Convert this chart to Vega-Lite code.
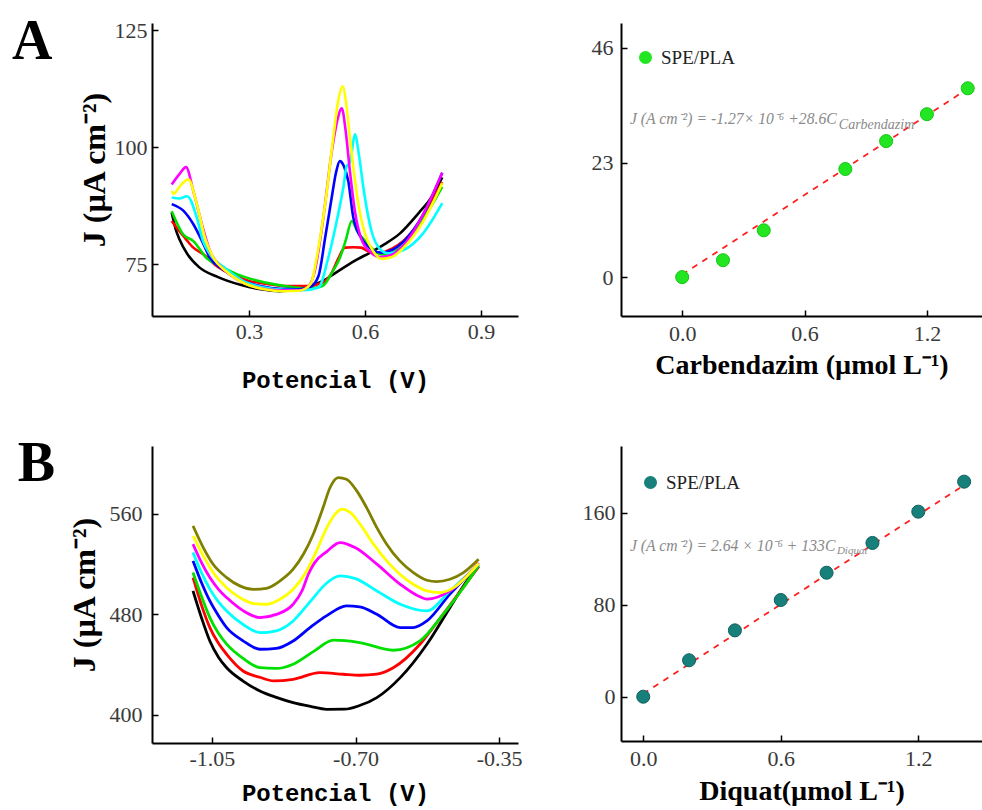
{
"$schema": "https://vega.github.io/schema/vega-lite/v6.json",
"background": "white",
"padding": {"left": 12, "top": 14, "right": 0, "bottom": 4},
"config": {
  "view": {"stroke": null},
  "axis": {"domainColor": "#000", "domainWidth": 2, "tickColor": "#000", "tickWidth": 1.5, "tickSize": -6, "grid": false, "labelFont": "Liberation Serif", "labelFontSize": 22, "labelColor": "#3a3a3a", "labelPadding": 6, "titleColor": "#000", "titleFont": "Liberation Serif", "titleFontWeight": "bold"},
  "legend": {"orient": "top-left", "padding": 0, "labelFont": "Liberation Serif", "labelFontSize": 19, "labelColor": "#222", "labelOffset": 6, "symbolType": "circle", "symbolSize": 170, "symbolStrokeWidth": 0, "titlePadding": 0}
},
"datasets": {
  "cvA": [
    {"c":"c0","E":0.10,"J":86.0},{"c":"c0","E":0.11,"J":82.5},{"c":"c0","E":0.12,"J":80.3},{"c":"c0","E":0.14,"J":77.2},{"c":"c0","E":0.17,"J":74.4},{"c":"c0","E":0.22,"J":72.2},{"c":"c0","E":0.28,"J":70.5},{"c":"c0","E":0.33,"J":69.6},{"c":"c0","E":0.38,"J":69.2},{"c":"c0","E":0.42,"J":69.6},{"c":"c0","E":0.46,"J":70.4},{"c":"c0","E":0.50,"J":71.8},{"c":"c0","E":0.52,"J":72.9},{"c":"c0","E":0.55,"J":74.5},{"c":"c0","E":0.58,"J":76.0},{"c":"c0","E":0.61,"J":77.3},{"c":"c0","E":0.65,"J":79.2},{"c":"c0","E":0.69,"J":81.5},{"c":"c0","E":0.74,"J":86.0},{"c":"c0","E":0.77,"J":89.0},{"c":"c0","E":0.80,"J":93.5},
    {"c":"c1","E":0.10,"J":84.2},{"c":"c1","E":0.12,"J":82.0},{"c":"c1","E":0.134,"J":80.6},{"c":"c1","E":0.156,"J":78.5},{"c":"c1","E":0.182,"J":77.1},{"c":"c1","E":0.216,"J":74.6},{"c":"c1","E":0.26,"J":72.6},{"c":"c1","E":0.30,"J":71.4},{"c":"c1","E":0.35,"J":70.7},{"c":"c1","E":0.40,"J":70.3},{"c":"c1","E":0.45,"J":70.3},{"c":"c1","E":0.49,"J":71.0},{"c":"c1","E":0.514,"J":73.1},{"c":"c1","E":0.53,"J":76.0},{"c":"c1","E":0.548,"J":78.5},{"c":"c1","E":0.57,"J":78.6},{"c":"c1","E":0.59,"J":78.5},{"c":"c1","E":0.617,"J":77.4},{"c":"c1","E":0.64,"J":77.4},{"c":"c1","E":0.67,"J":78.3},{"c":"c1","E":0.70,"J":80.0},{"c":"c1","E":0.75,"J":85.0},{"c":"c1","E":0.80,"J":92.5},
    {"c":"c2","E":0.10,"J":86.3},{"c":"c2","E":0.13,"J":81.3},{"c":"c2","E":0.156,"J":79.9},{"c":"c2","E":0.19,"J":76.3},{"c":"c2","E":0.225,"J":74.6},{"c":"c2","E":0.27,"J":72.8},{"c":"c2","E":0.32,"J":71.5},{"c":"c2","E":0.37,"J":70.6},{"c":"c2","E":0.42,"J":70.0},{"c":"c2","E":0.46,"J":69.8},{"c":"c2","E":0.49,"J":70.3},{"c":"c2","E":0.517,"J":73.5},{"c":"c2","E":0.535,"J":76.3},{"c":"c2","E":0.55,"J":80.0},{"c":"c2","E":0.566,"J":84.2},{"c":"c2","E":0.58,"J":82.0},{"c":"c2","E":0.608,"J":79.3},{"c":"c2","E":0.63,"J":77.5},{"c":"c2","E":0.65,"J":77.0},{"c":"c2","E":0.70,"J":79.0},{"c":"c2","E":0.75,"J":84.5},{"c":"c2","E":0.80,"J":91.5},
    {"c":"c3","E":0.10,"J":87.8},{"c":"c3","E":0.13,"J":86.4},{"c":"c3","E":0.156,"J":83.5},{"c":"c3","E":0.182,"J":79.3},{"c":"c3","E":0.199,"J":76.3},{"c":"c3","E":0.23,"J":74.0},{"c":"c3","E":0.28,"J":71.5},{"c":"c3","E":0.33,"J":70.3},{"c":"c3","E":0.38,"J":69.7},{"c":"c3","E":0.43,"J":69.6},{"c":"c3","E":0.46,"J":70.2},{"c":"c3","E":0.48,"J":72.5},{"c":"c3","E":0.497,"J":80.6},{"c":"c3","E":0.514,"J":89.2},{"c":"c3","E":0.525,"J":94.5},{"c":"c3","E":0.535,"J":97.0},{"c":"c3","E":0.545,"J":96.0},{"c":"c3","E":0.557,"J":92.7},{"c":"c3","E":0.57,"J":84.9},{"c":"c3","E":0.596,"J":79.9},{"c":"c3","E":0.62,"J":78.0},{"c":"c3","E":0.643,"J":77.4},{"c":"c3","E":0.67,"J":78.0},{"c":"c3","E":0.70,"J":79.8},{"c":"c3","E":0.75,"J":85.5},{"c":"c3","E":0.80,"J":94.5},
    {"c":"c4","E":0.10,"J":89.2},{"c":"c4","E":0.12,"J":89.0},{"c":"c4","E":0.14,"J":89.5},{"c":"c4","E":0.165,"J":84.9},{"c":"c4","E":0.181,"J":79.9},{"c":"c4","E":0.20,"J":77.0},{"c":"c4","E":0.24,"J":74.0},{"c":"c4","E":0.29,"J":71.2},{"c":"c4","E":0.34,"J":70.0},{"c":"c4","E":0.39,"J":69.5},{"c":"c4","E":0.44,"J":69.4},{"c":"c4","E":0.48,"J":70.0},{"c":"c4","E":0.505,"J":76.3},{"c":"c4","E":0.527,"J":84.2},{"c":"c4","E":0.544,"J":91.3},{"c":"c4","E":0.553,"J":96.0},{"c":"c4","E":0.56,"J":96.5},{"c":"c4","E":0.566,"J":99.0},{"c":"c4","E":0.574,"J":102.7},{"c":"c4","E":0.585,"J":98.0},{"c":"c4","E":0.596,"J":91.3},{"c":"c4","E":0.617,"J":82.0},{"c":"c4","E":0.639,"J":78.2},{"c":"c4","E":0.66,"J":77.3},{"c":"c4","E":0.70,"J":78.0},{"c":"c4","E":0.75,"J":81.5},{"c":"c4","E":0.80,"J":88.0},
    {"c":"c5","E":0.10,"J":92.0},{"c":"c5","E":0.12,"J":94.2},{"c":"c5","E":0.137,"J":95.7},{"c":"c5","E":0.156,"J":90.6},{"c":"c5","E":0.178,"J":83.5},{"c":"c5","E":0.199,"J":77.8},{"c":"c5","E":0.234,"J":73.9},{"c":"c5","E":0.28,"J":71.2},{"c":"c5","E":0.33,"J":69.8},{"c":"c5","E":0.38,"J":69.4},{"c":"c5","E":0.43,"J":69.4},{"c":"c5","E":0.455,"J":70.3},{"c":"c5","E":0.47,"J":73.5},{"c":"c5","E":0.49,"J":83.5},{"c":"c5","E":0.515,"J":99.5},{"c":"c5","E":0.528,"J":105.5},{"c":"c5","E":0.54,"J":108.3},{"c":"c5","E":0.55,"J":103.5},{"c":"c5","E":0.561,"J":94.9},{"c":"c5","E":0.574,"J":86.3},{"c":"c5","E":0.59,"J":80.5},{"c":"c5","E":0.615,"J":77.5},{"c":"c5","E":0.64,"J":76.5},{"c":"c5","E":0.67,"J":77.0},{"c":"c5","E":0.70,"J":79.0},{"c":"c5","E":0.75,"J":85.5},{"c":"c5","E":0.80,"J":94.5},
    {"c":"c6","E":0.10,"J":90.6},{"c":"c6","E":0.105,"J":90.0},{"c":"c6","E":0.12,"J":91.5},{"c":"c6","E":0.143,"J":93.1},{"c":"c6","E":0.165,"J":87.8},{"c":"c6","E":0.186,"J":80.6},{"c":"c6","E":0.208,"J":76.3},{"c":"c6","E":0.24,"J":73.5},{"c":"c6","E":0.29,"J":70.8},{"c":"c6","E":0.34,"J":69.6},{"c":"c6","E":0.39,"J":69.2},{"c":"c6","E":0.43,"J":69.3},{"c":"c6","E":0.46,"J":70.8},{"c":"c6","E":0.475,"J":76.3},{"c":"c6","E":0.497,"J":87.8},{"c":"c6","E":0.518,"J":102.0},{"c":"c6","E":0.53,"J":109.5},{"c":"c6","E":0.542,"J":113.0},{"c":"c6","E":0.552,"J":109.0},{"c":"c6","E":0.561,"J":102.0},{"c":"c6","E":0.583,"J":87.8},{"c":"c6","E":0.60,"J":81.5},{"c":"c6","E":0.621,"J":77.8},{"c":"c6","E":0.643,"J":76.1},{"c":"c6","E":0.67,"J":76.5},{"c":"c6","E":0.70,"J":78.5},{"c":"c6","E":0.75,"J":84.0},{"c":"c6","E":0.80,"J":92.3}
  ],
  "cvB": [
    {"c":"c0","E":-1.096,"J":498.7},{"c":"c0","E":-1.075,"J":477},{"c":"c0","E":-1.055,"J":458.9},{"c":"c0","E":-1.034,"J":446},{"c":"c0","E":-1.014,"J":437.6},{"c":"c0","E":-0.974,"J":427},{"c":"c0","E":-0.933,"J":419.1},{"c":"c0","E":-0.893,"J":414},{"c":"c0","E":-0.852,"J":409.8},{"c":"c0","E":-0.81,"J":406.8},{"c":"c0","E":-0.77,"J":404.5},{"c":"c0","E":-0.726,"J":404.6},{"c":"c0","E":-0.69,"J":407.5},{"c":"c0","E":-0.648,"J":413.8},{"c":"c0","E":-0.591,"J":429.7},{"c":"c0","E":-0.526,"J":456.3},{"c":"c0","E":-0.47,"J":485.4},{"c":"c0","E":-0.43,"J":506},{"c":"c0","E":-0.40,"J":518},
    {"c":"c1","E":-1.096,"J":509.3},{"c":"c1","E":-1.075,"J":487},{"c":"c1","E":-1.055,"J":469.5},{"c":"c1","E":-1.034,"J":457},{"c":"c1","E":-1.014,"J":448.3},{"c":"c1","E":-0.974,"J":435},{"c":"c1","E":-0.933,"J":430},{"c":"c1","E":-0.90,"J":427.1},{"c":"c1","E":-0.852,"J":428.4},{"c":"c1","E":-0.787,"J":433.7},{"c":"c1","E":-0.73,"J":432.4},{"c":"c1","E":-0.69,"J":431.6},{"c":"c1","E":-0.648,"J":432.5},{"c":"c1","E":-0.608,"J":437.6},{"c":"c1","E":-0.543,"J":456.3},{"c":"c1","E":-0.502,"J":473.5},{"c":"c1","E":-0.45,"J":496},{"c":"c1","E":-0.40,"J":518},
    {"c":"c2","E":-1.096,"J":513.3},{"c":"c2","E":-1.075,"J":494},{"c":"c2","E":-1.055,"J":477.5},{"c":"c2","E":-1.034,"J":465},{"c":"c2","E":-1.014,"J":456.3},{"c":"c2","E":-0.974,"J":445},{"c":"c2","E":-0.933,"J":437.6},{"c":"c2","E":-0.893,"J":437},{"c":"c2","E":-0.852,"J":440.4},{"c":"c2","E":-0.80,"J":451},{"c":"c2","E":-0.754,"J":459.5},{"c":"c2","E":-0.69,"J":457.6},{"c":"c2","E":-0.608,"J":451.5},{"c":"c2","E":-0.543,"J":458.9},{"c":"c2","E":-0.486,"J":480.2},{"c":"c2","E":-0.44,"J":500},{"c":"c2","E":-0.40,"J":519},
    {"c":"c3","E":-1.096,"J":522.6},{"c":"c3","E":-1.075,"J":505},{"c":"c3","E":-1.055,"J":490.7},{"c":"c3","E":-1.034,"J":479},{"c":"c3","E":-1.014,"J":469.5},{"c":"c3","E":-0.974,"J":459},{"c":"c3","E":-0.933,"J":452.3},{"c":"c3","E":-0.893,"J":453},{"c":"c3","E":-0.852,"J":458.9},{"c":"c3","E":-0.811,"J":469.5},{"c":"c3","E":-0.77,"J":479},{"c":"c3","E":-0.722,"J":486.8},{"c":"c3","E":-0.69,"J":486},{"c":"c3","E":-0.648,"J":480.2},{"c":"c3","E":-0.591,"J":469.5},{"c":"c3","E":-0.56,"J":469.5},{"c":"c3","E":-0.526,"J":474.8},{"c":"c3","E":-0.47,"J":496.1},{"c":"c3","E":-0.40,"J":520},
    {"c":"c4","E":-1.096,"J":529.2},{"c":"c4","E":-1.075,"J":513},{"c":"c4","E":-1.055,"J":500.1},{"c":"c4","E":-1.034,"J":490},{"c":"c4","E":-1.014,"J":482.8},{"c":"c4","E":-0.974,"J":472},{"c":"c4","E":-0.933,"J":465.5},{"c":"c4","E":-0.893,"J":467},{"c":"c4","E":-0.852,"J":474.8},{"c":"c4","E":-0.811,"J":490},{"c":"c4","E":-0.77,"J":505},{"c":"c4","E":-0.738,"J":510.6},{"c":"c4","E":-0.70,"J":508.5},{"c":"c4","E":-0.648,"J":498.7},{"c":"c4","E":-0.591,"J":488.1},{"c":"c4","E":-0.526,"J":482.8},{"c":"c4","E":-0.47,"J":498.7},{"c":"c4","E":-0.40,"J":520},
    {"c":"c5","E":-1.096,"J":535.9},{"c":"c5","E":-1.075,"J":521},{"c":"c5","E":-1.055,"J":509.3},{"c":"c5","E":-1.034,"J":500},{"c":"c5","E":-1.014,"J":493.4},{"c":"c5","E":-0.974,"J":483},{"c":"c5","E":-0.933,"J":477.5},{"c":"c5","E":-0.893,"J":480},{"c":"c5","E":-0.852,"J":488.1},{"c":"c5","E":-0.83,"J":499},{"c":"c5","E":-0.815,"J":512},{"c":"c5","E":-0.80,"J":521},{"c":"c5","E":-0.77,"J":530},{"c":"c5","E":-0.738,"J":537.2},{"c":"c5","E":-0.70,"J":533},{"c":"c5","E":-0.648,"J":520},{"c":"c5","E":-0.591,"J":504},{"c":"c5","E":-0.543,"J":494},{"c":"c5","E":-0.526,"J":492.1},{"c":"c5","E":-0.47,"J":498.7},{"c":"c5","E":-0.40,"J":521},
    {"c":"c6","E":-1.096,"J":542.5},{"c":"c6","E":-1.071,"J":526.6},{"c":"c6","E":-1.047,"J":513.3},{"c":"c6","E":-1.014,"J":501.3},{"c":"c6","E":-0.982,"J":493.4},{"c":"c6","E":-0.949,"J":488.6},{"c":"c6","E":-0.917,"J":488.1},{"c":"c6","E":-0.884,"J":492.1},{"c":"c6","E":-0.852,"J":500.0},{"c":"c6","E":-0.819,"J":514.6},{"c":"c6","E":-0.795,"J":530.5},{"c":"c6","E":-0.770,"J":549.1},{"c":"c6","E":-0.746,"J":561.1},{"c":"c6","E":-0.734,"J":563.7},{"c":"c6","E":-0.713,"J":561.1},{"c":"c6","E":-0.689,"J":551.8},{"c":"c6","E":-0.656,"J":535.9},{"c":"c6","E":-0.624,"J":522.6},{"c":"c6","E":-0.592,"J":512.0},{"c":"c6","E":-0.559,"J":504.0},{"c":"c6","E":-0.526,"J":498.7},{"c":"c6","E":-0.494,"J":497.4},{"c":"c6","E":-0.461,"J":501.3},{"c":"c6","E":-0.428,"J":510.6},{"c":"c6","E":-0.400,"J":520.5},
    {"c":"c7","E":-1.096,"J":550.4},{"c":"c7","E":-1.071,"J":533.2},{"c":"c7","E":-1.047,"J":519.9},{"c":"c7","E":-1.014,"J":509.3},{"c":"c7","E":-0.982,"J":502.7},{"c":"c7","E":-0.949,"J":500.0},{"c":"c7","E":-0.917,"J":500.8},{"c":"c7","E":-0.884,"J":506.7},{"c":"c7","E":-0.852,"J":516.0},{"c":"c7","E":-0.827,"J":527.9},{"c":"c7","E":-0.803,"J":543.8},{"c":"c7","E":-0.779,"J":565.0},{"c":"c7","E":-0.762,"J":581.0},{"c":"c7","E":-0.742,"J":588.9},{"c":"c7","E":-0.722,"J":587.6},{"c":"c7","E":-0.697,"J":578.3},{"c":"c7","E":-0.673,"J":565.0},{"c":"c7","E":-0.648,"J":549.1},{"c":"c7","E":-0.624,"J":535.9},{"c":"c7","E":-0.592,"J":522.6},{"c":"c7","E":-0.559,"J":513.3},{"c":"c7","E":-0.526,"J":507.2},{"c":"c7","E":-0.502,"J":506.1},{"c":"c7","E":-0.470,"J":508.0},{"c":"c7","E":-0.437,"J":513.3},{"c":"c7","E":-0.400,"J":523.9}
  ],
  "calA": [
    {"s":"SPE/PLA","C":0.0,"J":0.0},{"s":"SPE/PLA","C":0.2,"J":3.4},{"s":"SPE/PLA","C":0.4,"J":9.4},{"s":"SPE/PLA","C":0.8,"J":21.7},{"s":"SPE/PLA","C":1.0,"J":27.3},{"s":"SPE/PLA","C":1.2,"J":32.7},{"s":"SPE/PLA","C":1.4,"J":37.9}
  ],
  "fitA": [{"C":0.0,"J":0.5},{"C":1.4,"J":37.8}],
  "calB": [
    {"s":"SPE/PLA","C":0.0,"J":0.0},{"s":"SPE/PLA","C":0.2,"J":31.7},{"s":"SPE/PLA","C":0.4,"J":57.7},{"s":"SPE/PLA","C":0.6,"J":84.1},{"s":"SPE/PLA","C":0.8,"J":107.8},{"s":"SPE/PLA","C":1.0,"J":133.7},{"s":"SPE/PLA","C":1.2,"J":160.9},{"s":"SPE/PLA","C":1.4,"J":187.0}
  ],
  "fitB": [{"C":0.0,"J":2.5},{"C":1.4,"J":184.0}]
},
"columns": 2,
"spacing": {"row": 130, "column": 103},
"bounds": "flush",
"resolve": {"scale": {"color": "independent"}},
"concat": [
  {
    "width": 366, "height": 293,
    "layer": [
      {
        "data": {"name": "cvA"},
        "mark": {"type": "line", "strokeWidth": 2.6, "interpolate": "monotone"},
        "encoding": {
          "x": {"field": "E", "type": "quantitative", "scale": {"domain": [0.049, 0.996], "nice": false, "zero": false},
                "axis": {"values": [0.3, 0.6, 0.9], "format": ".1f", "labelPadding": 11, "title": "Potencial (V)", "titleFont": "Liberation Mono", "titleFontSize": 24, "titlePadding": 26}},
          "y": {"field": "J", "type": "quantitative", "scale": {"domain": [63.9, 126.5], "nice": false, "zero": false},
                "axis": {"values": [75, 100, 125], "labelPadding": 11, "title": "J (µA cm⁻²)", "titleFontSize": 32, "titlePadding": 3}},
          "color": {"field": "c", "type": "nominal", "legend": null,
                    "scale": {"domain": ["c0","c1","c2","c3","c4","c5","c6"], "range": ["#000000","#ff0000","#00e000","#0000ff","#00ffff","#ff00ff","#ffff00"]}}
        }
      },
      {
        "data": {"values": [{}]},
        "mark": {"type": "text", "text": "A", "font": "Liberation Serif", "fontSize": 56, "fontWeight": "bold", "align": "left", "baseline": "alphabetic", "color": "#000"},
        "encoding": {"x": {"datum": -0.313}, "y": {"datum": 118.8}}
      }
    ]
  },
  {
    "width": 361, "height": 293,
    "layer": [
      {
        "data": {"name": "fitA"},
        "mark": {"type": "line", "color": "#ff2020", "strokeWidth": 1.8, "strokeDash": [6, 6]},
        "encoding": {
          "x": {"field": "C", "type": "quantitative", "scale": {"domain": [-0.30, 1.47], "nice": false, "zero": false},
                "axis": {"values": [0, 0.6, 1.2], "format": ".1f", "labelPadding": 13, "title": "Carbendazim (µmol L⁻¹)", "titleFontSize": 28, "titlePadding": 7}},
          "y": {"field": "J", "type": "quantitative", "scale": {"domain": [-7.8, 51], "nice": false, "zero": false},
                "axis": {"values": [0, 23, 46], "labelPadding": 14, "title": null}}
        }
      },
      {
        "data": {"name": "calA"},
        "mark": {"type": "point", "filled": true, "opacity": 1, "size": 170, "stroke": "#16c416", "strokeWidth": 1},
        "encoding": {
          "x": {"field": "C", "type": "quantitative"},
          "y": {"field": "J", "type": "quantitative"},
          "color": {"field": "s", "type": "nominal", "scale": {"domain": ["SPE/PLA"], "range": ["#22e622"]},
                    "legend": {"title": " ", "titleFontSize": 10, "offset": 15}}
        }
      },
      {
        "data": {"values": [{}]},
        "mark": {"type": "text", "text": "J (A cm⁻²) = -1.27× 10⁻⁶ +28.6C", "font": "Liberation Serif", "fontSize": 15.7, "fontStyle": "italic", "color": "#8a8a8a", "align": "left", "baseline": "middle"},
        "encoding": {"x": {"datum": -0.256}, "y": {"datum": 31.7}}
      },
      {
        "data": {"values": [{}]},
        "mark": {"type": "text", "text": "Carbendazim", "font": "Liberation Serif", "fontSize": 14, "fontStyle": "italic", "color": "#8a8a8a", "align": "left", "baseline": "middle"},
        "encoding": {"x": {"datum": 0.768}, "y": {"datum": 30.6}}
      }
    ]
  },
  {
    "width": 366, "height": 297,
    "layer": [
      {
        "data": {"name": "cvB"},
        "mark": {"type": "line", "strokeWidth": 2.8, "interpolate": "monotone"},
        "encoding": {
          "x": {"field": "E", "type": "quantitative", "scale": {"domain": [-1.196, -0.304], "nice": false, "zero": false},
                "axis": {"values": [-1.05, -0.70, -0.35], "labelPadding": 11, "labelExpr": "replace(format(datum.value, '.2f'), '−', '-')", "title": "Potencial (V)", "titleFont": "Liberation Mono", "titleFontSize": 24, "titlePadding": 12}},
          "y": {"field": "J", "type": "quantitative", "scale": {"domain": [377.7, 614], "nice": false, "zero": false},
                "axis": {"values": [400, 480, 560], "labelPadding": 16, "title": "J (µA cm⁻²)", "titleFontSize": 32, "titlePadding": 8}},
          "color": {"field": "c", "type": "nominal", "legend": null,
                    "scale": {"domain": ["c0","c1","c2","c3","c4","c5","c6","c7"], "range": ["#000000","#ff0000","#00e000","#0000ff","#00ffff","#ff00ff","#ffff00","#808000"]}}
        }
      },
      {
        "data": {"values": [{}]},
        "mark": {"type": "text", "text": "B", "font": "Liberation Serif", "fontSize": 56, "fontWeight": "bold", "align": "left", "baseline": "alphabetic", "color": "#000"},
        "encoding": {"x": {"datum": -1.523}, "y": {"datum": 586.5}}
      }
    ]
  },
  {
    "width": 361, "height": 295,
    "layer": [
      {
        "data": {"name": "fitB"},
        "mark": {"type": "line", "color": "#ff2020", "strokeWidth": 1.8, "strokeDash": [6, 6]},
        "encoding": {
          "x": {"field": "C", "type": "quantitative", "scale": {"domain": [-0.097, 1.478], "nice": false, "zero": false},
                "axis": {"values": [0, 0.6, 1.2], "format": ".1f", "labelPadding": 13, "title": "Diquat(µmol L⁻¹)", "titleFontSize": 28, "titlePadding": 8}},
          "y": {"field": "J", "type": "quantitative", "scale": {"domain": [-38.5, 218], "nice": false, "zero": false},
                "axis": {"values": [0, 80, 160], "labelPadding": 12, "title": null}}
        }
      },
      {
        "data": {"name": "calB"},
        "mark": {"type": "point", "filled": true, "opacity": 1, "size": 170, "stroke": "#0f5f5b", "strokeWidth": 1},
        "encoding": {
          "x": {"field": "C", "type": "quantitative"},
          "y": {"field": "J", "type": "quantitative"},
          "color": {"field": "s", "type": "nominal", "scale": {"domain": ["SPE/PLA"], "range": ["#17807b"]},
                    "legend": {"title": " ", "titleFontSize": 7, "offset": 20}}
        }
      },
      {
        "data": {"values": [{}]},
        "mark": {"type": "text", "text": "J (A cm⁻²) = 2.64 × 10⁻⁶ + 133C", "font": "Liberation Serif", "fontSize": 15.7, "fontStyle": "italic", "color": "#8a8a8a", "align": "left", "baseline": "middle"},
        "encoding": {"x": {"datum": -0.058}, "y": {"datum": 131.0}}
      },
      {
        "data": {"values": [{}]},
        "mark": {"type": "text", "text": "Diquat", "font": "Liberation Serif", "fontSize": 11, "fontStyle": "italic", "color": "#8a8a8a", "align": "left", "baseline": "middle"},
        "encoding": {"x": {"datum": 0.845}, "y": {"datum": 126.7}}
      }
    ]
  }
]
}
